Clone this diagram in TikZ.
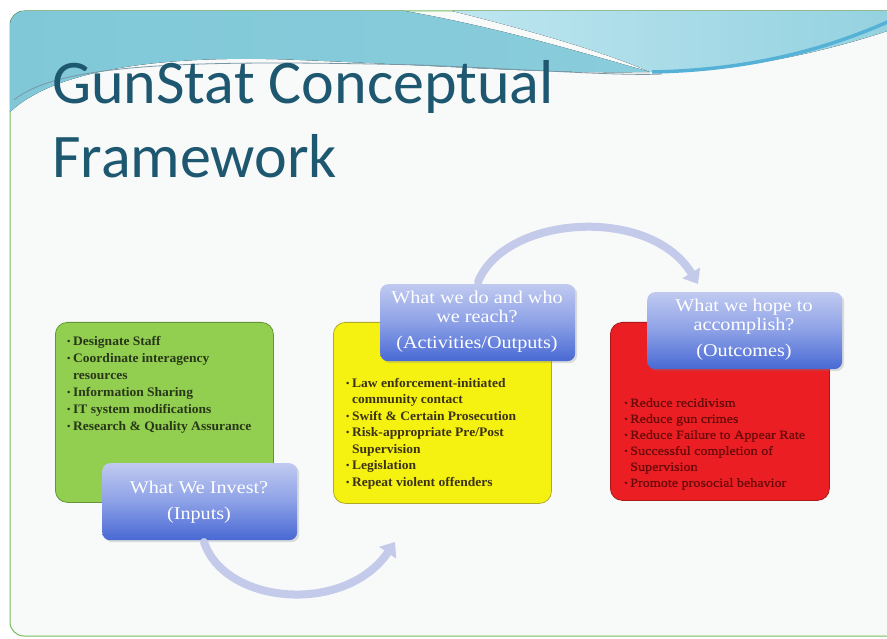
\documentclass[tikz,border=0pt]{standalone}
\usepackage{fontspec}
\usepackage{graphicx}
\setmainfont{Liberation Serif}
\newfontfamily\titlefont{Carlito}
\newfontfamily\listbold[FakeStretch=1.04]{Liberation Serif Bold}
\newfontfamily\listreg[FakeStretch=1.13,FakeBold=0.6]{Liberation Serif}
\newfontfamily\labfont[FakeStretch=1.12]{Liberation Serif}
\usetikzlibrary{arrows.meta,shadows}
\definecolor{slidebg}{RGB}{248,249,249}
\definecolor{slideframe}{RGB}{120,190,95}
\definecolor{wavedark}{RGB}{128,200,216}
\definecolor{wavelight}{RGB}{190,230,240}
\definecolor{waveline}{RGB}{85,178,214}
\definecolor{thinline}{RGB}{120,150,165}
\definecolor{titlecol}{RGB}{30,88,112}
\definecolor{greenfill}{RGB}{146,206,80}
\definecolor{greenline}{RGB}{100,150,55}
\definecolor{greentext}{RGB}{40,55,25}
\definecolor{yellowfill}{RGB}{245,242,18}
\definecolor{yellowline}{RGB}{175,170,40}
\definecolor{yellowtext}{RGB}{60,50,20}
\definecolor{redfill}{RGB}{235,30,35}
\definecolor{redline}{RGB}{170,25,25}
\definecolor{redtext}{RGB}{105,10,10}
\definecolor{labtop}{RGB}{192,202,240}
\definecolor{labmid}{RGB}{140,160,230}
\definecolor{labbot}{RGB}{72,105,212}
\definecolor{arrowcol}{RGB}{196,202,234}
\newcommand\bt{\makebox[6pt][l]{\raisebox{0.2ex}{\scalebox{0.7}{\textbullet}}}}
\newcommand\ct{\hspace*{6pt}}
\tikzset{
  panel/.style={rounded corners=12pt, line width=0.8pt, anchor=north west, inner sep=0pt},
  greenbox/.style={panel, draw=greenline, fill=greenfill, minimum width=218pt, minimum height=180pt},
  yellowbox/.style={panel, draw=yellowline, fill=yellowfill, minimum width=218pt, minimum height=181pt},
  redbox/.style={panel, draw=redline, fill=redfill, minimum width=219pt, minimum height=178pt},
  labelbox/.style={rounded corners=8pt, anchor=north west, inner sep=0pt,
    minimum width=195pt, minimum height=77pt,
    top color=labtop, bottom color=labbot, middle color=labmid,
    drop shadow={opacity=0.25, shadow xshift=2pt, shadow yshift=-2pt}},
  labeltext/.style={text=white, align=center, font=\labfont\fontsize{18}{19}\selectfont},
  listtext/.style={anchor=north west, align=left, inner sep=0pt},
  flow/.style={line width=8pt, draw=arrowcol, line cap=round,
    -{Triangle[length=13pt,width=20pt]}},
  titletext/.style={anchor=base west, inner sep=0pt, text=titlecol,
    font=\titlefont\fontsize{62}{74}\selectfont}
}
\begin{document}
\begin{tikzpicture}[x=1pt,y=-1pt]
\useasboundingbox (0,0) rectangle (887,639);
% slide
\draw[slideframe, fill=slidebg, line width=1pt, rounded corners=14pt] (10,11) rectangle (905,636);
\begin{scope}
\clip[rounded corners=14pt] (10,11) rectangle (905,636);
\fill[left color=wavedark, right color=wavedark!85!wavelight]
  (10,11) -- (405,11) .. controls (500,28) and (580,52) .. (650,72)
  .. controls (550,74) and (450,66) .. (300,60)
  .. controls (180,55) and (60,65) .. (10,112) -- cycle;
\fill[left color=wavelight, right color=wavedark!70!wavelight]
  (452,11) -- (905,11) -- (905,25)
  .. controls (820,55) and (730,72) .. (650,72)
  .. controls (600,50) and (520,28) .. (452,11) -- cycle;
\draw[waveline, line width=3.5pt] (652,72) .. controls (760,70) and (840,45) .. (905,14);
\draw[thinline, line width=0.8pt] (14,100) .. controls (60,62) and (200,60) .. (420,65)
  .. controls (540,70) and (620,76) .. (662,74);
\end{scope}
% title
\node[titletext] (title1) at (52,104) {GunStat Conceptual};
\node[titletext] (title2) at (52,178) {Framework};
% panels
\node[greenbox] (inputs) at (55,322) {};
\node[yellowbox] (activities) at (333,322) {};
\node[redbox] (outcomes) at (610,322) {};
% lists
\node[listtext, text=greentext, font=\listbold\fontsize{13}{17}\selectfont] (inlist) at (67,336)
 {\bt Designate Staff\\ \bt Coordinate interagency\\ \ct resources\\ \bt Information Sharing\\ \bt IT system modifications\\ \bt Research \& Quality Assurance};
\node[listtext, text=yellowtext, font=\listbold\fontsize{13}{16.5}\selectfont] (actlist) at (346,378)
 {\bt Law enforcement-initiated\\ \ct community contact\\ \bt Swift \& Certain Prosecution\\ \bt Risk-appropriate Pre/Post\\ \ct Supervision\\ \bt Legislation\\ \bt Repeat violent offenders};
\node[listtext, text=redtext, font=\listreg\fontsize{12.5}{16}\selectfont] (outlist) at (624,398)
 {\bt Reduce recidivism\\ \bt Reduce gun crimes\\ \bt Reduce Failure to Appear Rate\\ \bt Successful completion of\\ \ct Supervision\\ \bt Promote prosocial behavior};
% labels
\node[labelbox] (lab1) at (102,463) {};
\node[labeltext] (lab1t) at (199,502) {What We Invest?\\[7pt](Inputs)};
\node[labelbox] (lab2) at (380,284) {};
\node[labeltext] (lab2t) at (477,322) {What we do and who\\ we reach?\\[7pt](Activities/Outputs)};
\node[labelbox] (lab3) at (647,292) {};
\node[labeltext] (lab3t) at (744,330) {What we hope to\\ accomplish?\\[7pt](Outcomes)};
% flow arrows
\coordinate (a1s) at (204,542);
\coordinate (a1e) at (395,542);
\coordinate (a2s) at (478,282);
\coordinate (a2e) at (698,284);
\draw[flow] (a1s) .. controls (225,605) and (345,615) .. (a1e);
\draw[flow] (a2s) .. controls (505,215) and (650,205) .. (a2e);
\end{tikzpicture}
\end{document}
